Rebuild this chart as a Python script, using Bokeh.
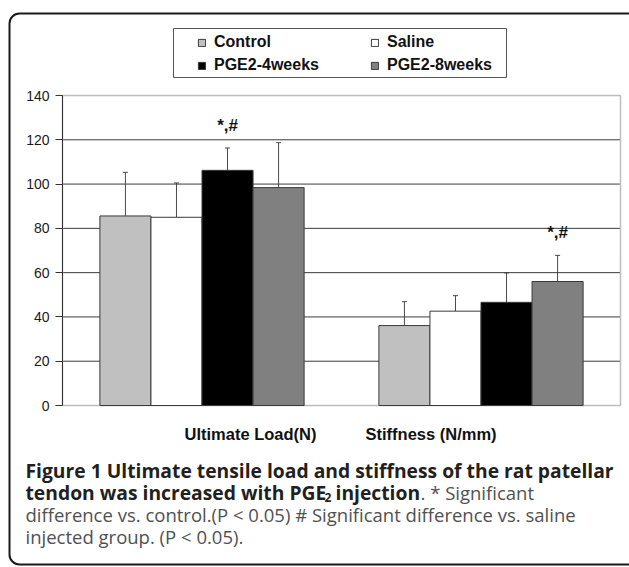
from bokeh.plotting import figure
from bokeh.models import (ColumnDataSource, Range1d, FixedTicker, Whisker, TeeHead, LinearAxis,
                          Legend, LegendItem, Label, BoxAnnotation)
from bokeh.core.properties import value
from bokeh.embed import file_html
from bokeh.resources import INLINE

# ---- data ----
categories = ["Ultimate Load(N)", "Stiffness (N/mm)"]
groups = ["Control", "Saline", "PGE2-4weeks", "PGE2-8weeks"]
ultimate_mean = [85.6, 85.0, 106.2, 98.4]
ultimate_sd = [19.7, 15.5, 10.1, 20.3]
stiffness_mean = [36.1, 42.6, 46.6, 56.0]
stiffness_sd = [10.8, 7.0, 13.3, 11.8]
sig_marks = [("Ultimate Load(N)", "PGE2-4weeks", "*,#"), ("Stiffness (N/mm)", "PGE2-8weeks", "*,#")]
y_ticks = [0, 20, 40, 60, 80, 100, 120, 140]
colors = ["#c0c0c0", "#ffffff", "#000000", "#808080"]

# ---- page geometry (pixels) ----
W, H = 629, 567
PX0, PX1 = 62, 620        # plot area left/right
PY_TOP, PY_BOT = 95, 405  # pixel rows of y=140 and y=0
ymax = y_ticks[-1]
xu = (PX1 - PX0) / len(categories)      # px per category unit
yu = (PY_BOT - PY_TOP) / ymax           # px per y unit
bar_w = 0.183

def sy(ref_y):  # screen y (from bottom) for a pixel row
    return H - ref_y

rows = []
for ci, (means, sds) in enumerate([(ultimate_mean, ultimate_sd), (stiffness_mean, stiffness_sd)]):
    for gi, (m, s) in enumerate(zip(means, sds)):
        rows.append(dict(x=ci + 0.5 + (gi - 1.5) * bar_w, top=m, upper=m + s,
                         color=colors[gi], group=groups[gi], cat=categories[ci]))
source = ColumnDataSource({k: [r[k] for r in rows] for k in rows[0]})

sig_x, sig_y, sig_t = [], [], []
for cat, grp, txt in sig_marks:
    r = next(r for r in rows if r["cat"] == cat and r["group"] == grp)
    sig_x.append(r["x"]); sig_y.append(r["upper"] + 6.0); sig_t.append(txt)

p = figure(width=W, height=H,
           x_range=Range1d(-PX0 / xu, len(categories) + (W - PX1) / xu),
           y_range=Range1d(-(H - PY_BOT) / yu, ymax + PY_TOP / yu),
           output_backend="svg", toolbar_location=None,
           x_axis_location=None, y_axis_location=None,
           min_border_left=0, min_border_right=0, min_border_top=0, min_border_bottom=0)
p.background_fill_color = "white"
p.border_fill_color = "white"
p.outline_line_color = None
p.xgrid.visible = False
p.ygrid.visible = False

# grid lines across the plot area only
gt = y_ticks[1:-1]
p.segment(x0=[0] * len(gt), x1=[len(categories)] * len(gt), y0=gt, y1=gt,
          line_color="#3c3c3c", line_width=1)
# plot area border (light gray)
p.quad(left=[0], right=[len(categories)], bottom=[0], top=[ymax], fill_color=None,
       line_color="#bdbdbd", line_width=1.5)

bars = p.vbar(x="x", top="top", width=bar_w, source=source, fill_color="color",
              line_color="#3a3a3a", line_width=1)

whisk = Whisker(source=source, base="x", lower="top", upper="upper", dimension="height",
                line_color="#4a4a4a", line_width=1,
                upper_head=TeeHead(size=5, line_color="#4a4a4a", line_width=1), lower_head=None)
p.add_layout(whisk)

p.text(x=sig_x, y=sig_y, text=sig_t, text_align="center", text_baseline="bottom",
       text_font=value("Liberation Sans"), text_font_style="bold", text_font_size="17px",
       text_color="#111111")

ax = LinearAxis(fixed_location=0, bounds=(0, ymax), ticker=FixedTicker(ticks=y_ticks))
ax.axis_line_color = "#333333"
ax.major_tick_line_color = "#333333"
ax.major_tick_out = 7
ax.major_tick_in = 0
ax.minor_tick_line_color = None
ax.major_label_standoff = 6
ax.major_label_text_font = "Liberation Sans"
ax.major_label_text_font_size = "14px"
ax.major_label_text_color = "#1a1a1a"
p.add_layout(ax, "left")

# ---- legend (two columns inside one box) ----
p.add_layout(BoxAnnotation(left=173, right=506, top=sy(28), bottom=sy(77),
                           left_units="screen", right_units="screen", top_units="screen",
                           bottom_units="screen", fill_color=None, fill_alpha=0,
                           line_color="#555555", line_alpha=1.0, line_width=1))
for lx, idxs in [(197, [0, 2]), (370, [1, 3])]:
    leg = Legend(items=[LegendItem(label=groups[i], renderers=[bars], index=i) for i in idxs],
                 location=(lx, sy(75)), orientation="vertical", padding=0, margin=0, spacing=3,
                 glyph_width=9, glyph_height=9, label_standoff=8, label_height=20,
                 label_text_font="Liberation Sans", label_text_font_style="bold",
                 label_text_font_size="16px", label_text_color="#111111",
                 border_line_color=None, background_fill_alpha=0)
    p.add_layout(leg)

# ---- category labels ----
p.add_layout(Label(x=250, y=sy(433), x_units="screen", y_units="screen", text=categories[0],
                   text_align="center", text_baseline="middle", text_font="Liberation Sans",
                   text_font_style="bold", text_font_size="16.5px", text_color="#111111"))
p.add_layout(Label(x=365, y=sy(433), x_units="screen", y_units="screen", text=categories[1],
                   text_align="left", text_baseline="middle", text_font="Liberation Sans",
                   text_font_style="bold", text_font_size="16.5px", text_color="#111111"))

# ---- caption ----
bold_c = "#231f20"
reg_c = "#505050"
def cap(xs, ys, text, bold=True, size=None):
    size = size or ("19.3px" if bold else "18.5px")
    p.add_layout(Label(x=xs, y=sy(ys), x_units="screen", y_units="screen", text=text,
                       text_align="left", text_baseline="middle", text_font="Open Sans",
                       text_font_style="bold" if bold else "normal", text_font_size=size,
                       text_color=bold_c if bold else reg_c))

cap(25, 470, "Figure 1 Ultimate tensile load and stiffness of the rat patellar")
cap(25, 492, "tendon was increased with PGE")
cap(324, 497, "2", size="12px")
cap(335, 492, "injection")
cap(420, 492, ". * Significant", bold=False)
cap(25, 514, "difference vs. control.(P < 0.05) # Significant difference vs. saline", bold=False)
cap(25, 536, "injected group. (P < 0.05).", bold=False)

# ---- outer rounded frame ----
p.add_layout(BoxAnnotation(left=9, right=W + 40, top=sy(13), bottom=sy(564),
                           left_units="screen", right_units="screen", top_units="screen",
                           bottom_units="screen", fill_color=None, fill_alpha=0,
                           line_color="#1a1a1a", line_alpha=1.0, line_width=2,
                           border_radius=10))

open("out.html", "w").write(file_html(p, INLINE))
